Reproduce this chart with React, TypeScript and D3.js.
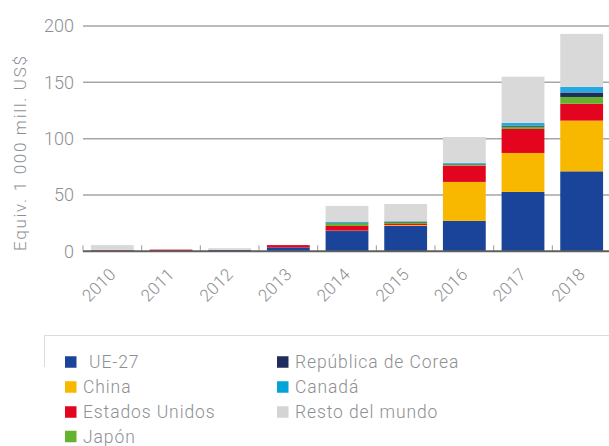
import React, { useEffect, useRef } from 'react';
import * as d3 from 'd3';

const years = ['2010', '2011', '2012', '2013', '2014', '2015', '2016', '2017', '2018'];
const seriesNames = ['UE-27', 'China', 'Estados Unidos', 'Japón', 'República de Corea', 'Canadá', 'Resto del mundo'];

const ue27 = [0, 0, 1.2, 3.5, 18, 22.5, 27, 52.7, 71];
const china = [0, 0, 0, 0, 0.3, 0.8, 34.6, 34.6, 45];
const eeuu = [1, 1.5, 0, 2, 4.2, 0.9, 14.5, 21.3, 15];
const japon = [0, 0, 0, 0, 2.4, 1.3, 1, 2, 6];
const corea = [0, 0, 0, 0, 0.3, 0.9, 0.6, 1, 4];
const canada = [0, 0, 0, 0, 1.1, 0.2, 0.8, 2.4, 5];
const resto = [4.5, 0, 1.6, 0, 14, 15.4, 23, 41, 47];

const yTicks = [0, 50, 100, 150, 200];

const colors = ['#1a4499', '#f9b800', '#e30520', '#64b22e', '#1f2d5c', '#26a9e0', '#d9d9d9'];
const legendColors = ['#1a4499', '#f9b800', '#e30520', '#64b22e', '#1f2d5c', '#00a5d6', '#d4d4d4'];

const App = () => {
  const ref = useRef<SVGSVGElement>(null);

  const width = 609, height = 446;
  const marginLeft = 83, marginRight = -2, marginTop = 26, axisY = 251.3;
  const FONT = 'Roboto, "Open Sans", sans-serif';
  const TEXT = '#8d8f94';

  useEffect(() => {
    document.body.style.margin = '0';
    const allSeries = [ue27, china, eeuu, japon, corea, canada, resto];
    const rows = years.map((y, i) => {
      const r: any = { year: y };
      seriesNames.forEach((s, k) => { r[s] = allSeries[k][i]; });
      return r;
    });

    const stacked = d3.stack().keys(seriesNames)(rows);

    const x = d3.scaleBand()
      .domain(years)
      .range([marginLeft, width - marginRight])
      .paddingInner(0.27)
      .paddingOuter(0.135);

    const y = d3.scaleLinear().domain([0, 200]).range([axisY, marginTop]);

    const svg = d3.select(ref.current)
      .attr('width', width)
      .attr('height', height)
      .attr('viewBox', [0, 0, width, height] as any);
    svg.selectAll('*').remove();

    // grid
    svg.append('g')
      .selectAll('line')
      .data(yTicks.filter(d => d > 0))
      .join('line')
      .attr('x1', marginLeft)
      .attr('x2', width)
      .attr('y1', d => y(d))
      .attr('y2', d => y(d))
      .attr('stroke', '#a6a6a6')
      .attr('stroke-width', 1.5);

    // y tick labels
    svg.append('g')
      .selectAll('text')
      .data(yTicks)
      .join('text')
      .attr('x', 74)
      .attr('y', d => y(d))
      .attr('dy', '0.35em')
      .attr('text-anchor', 'end')
      .attr('font-family', FONT)
      .attr('font-weight', 300)
      .attr('font-size', 18)
      .attr('fill', TEXT)
      .text(d => d);

    // bars
    svg.append('g')
      .selectAll('g')
      .data(stacked)
      .join('g')
      .attr('fill', (_d, i) => colors[i])
      .selectAll('rect')
      .data(d => d)
      .join('rect')
      .attr('x', d => x((d as any).data.year) as number)
      .attr('y', d => y(d[1]))
      .attr('height', d => Math.max(0, y(d[0]) - y(d[1])))
      .attr('width', x.bandwidth());

    // tick marks between bands
    const step = x.step();
    const tickXs = years.map(yr => (x(yr) as number) - (step - x.bandwidth()) / 2);
    svg.append('g')
      .selectAll('line')
      .data(tickXs)
      .join('line')
      .attr('x1', d => d)
      .attr('x2', d => d)
      .attr('y1', axisY)
      .attr('y2', axisY - 6)
      .attr('stroke', '#9a9a9a')
      .attr('stroke-width', 1);

    // x axis line
    svg.append('line')
      .attr('x1', marginLeft)
      .attr('x2', width)
      .attr('y1', axisY)
      .attr('y2', axisY)
      .attr('stroke', '#5f5f5f')
      .attr('stroke-width', 2);

    // x labels
    svg.append('g')
      .selectAll('text')
      .data(years)
      .join('text')
      .attr('transform', d => `translate(${(x(d) as number) + x.bandwidth() / 2 + 4.5},${axisY + 24}) rotate(-45)`)
      .attr('text-anchor', 'end')
      .attr('font-family', FONT)
      .attr('font-weight', 300)
      .attr('font-size', 17)
      .attr('letter-spacing', 0.3)
      .attr('fill', TEXT)
      .text(d => d);

    // y title
    svg.append('text')
      .attr('transform', `translate(26,${(y(0) + y(200)) / 2 + 14}) rotate(-90)`)
      .attr('text-anchor', 'middle')
      .attr('font-family', FONT)
      .attr('font-weight', 300)
      .attr('font-size', 17)
      .attr('letter-spacing', 1.7)
      .attr('fill', TEXT)
      .text('Equiv. 1 000 mill. US$');

    // legend frame
    svg.append('path')
      .attr('d', `M44.5,367 V335.5 H${width}`)
      .attr('fill', 'none')
      .attr('stroke', '#dcdcdc')
      .attr('stroke-width', 1);

    const legendPos = [
      [65, 362], [65, 387], [65, 412], [65, 436.5],
      [277, 362], [277, 387], [277, 412],
    ];
    const leg = svg.append('g')
      .selectAll('g')
      .data(seriesNames)
      .join('g')
      .attr('transform', (_d, i) => `translate(${legendPos[i][0]},${legendPos[i][1]})`);
    leg.append('rect')
      .attr('x', 0)
      .attr('y', -5.75)
      .attr('width', 11.5)
      .attr('height', 11.5)
      .attr('fill', (_d, i) => legendColors[i]);
    leg.append('text')
      .attr('x', (_d, i) => (i === 0 ? 24 : 18))
      .attr('y', 0)
      .attr('dy', '0.35em')
      .attr('font-family', FONT)
      .attr('font-weight', 300)
      .attr('font-size', 17.5)
      .attr('letter-spacing', 0.9)
      .attr('fill', TEXT)
      .text(d => d);
  }, []);

  return <svg ref={ref} style={{ display: 'block' }}></svg>;
};

export default App;
